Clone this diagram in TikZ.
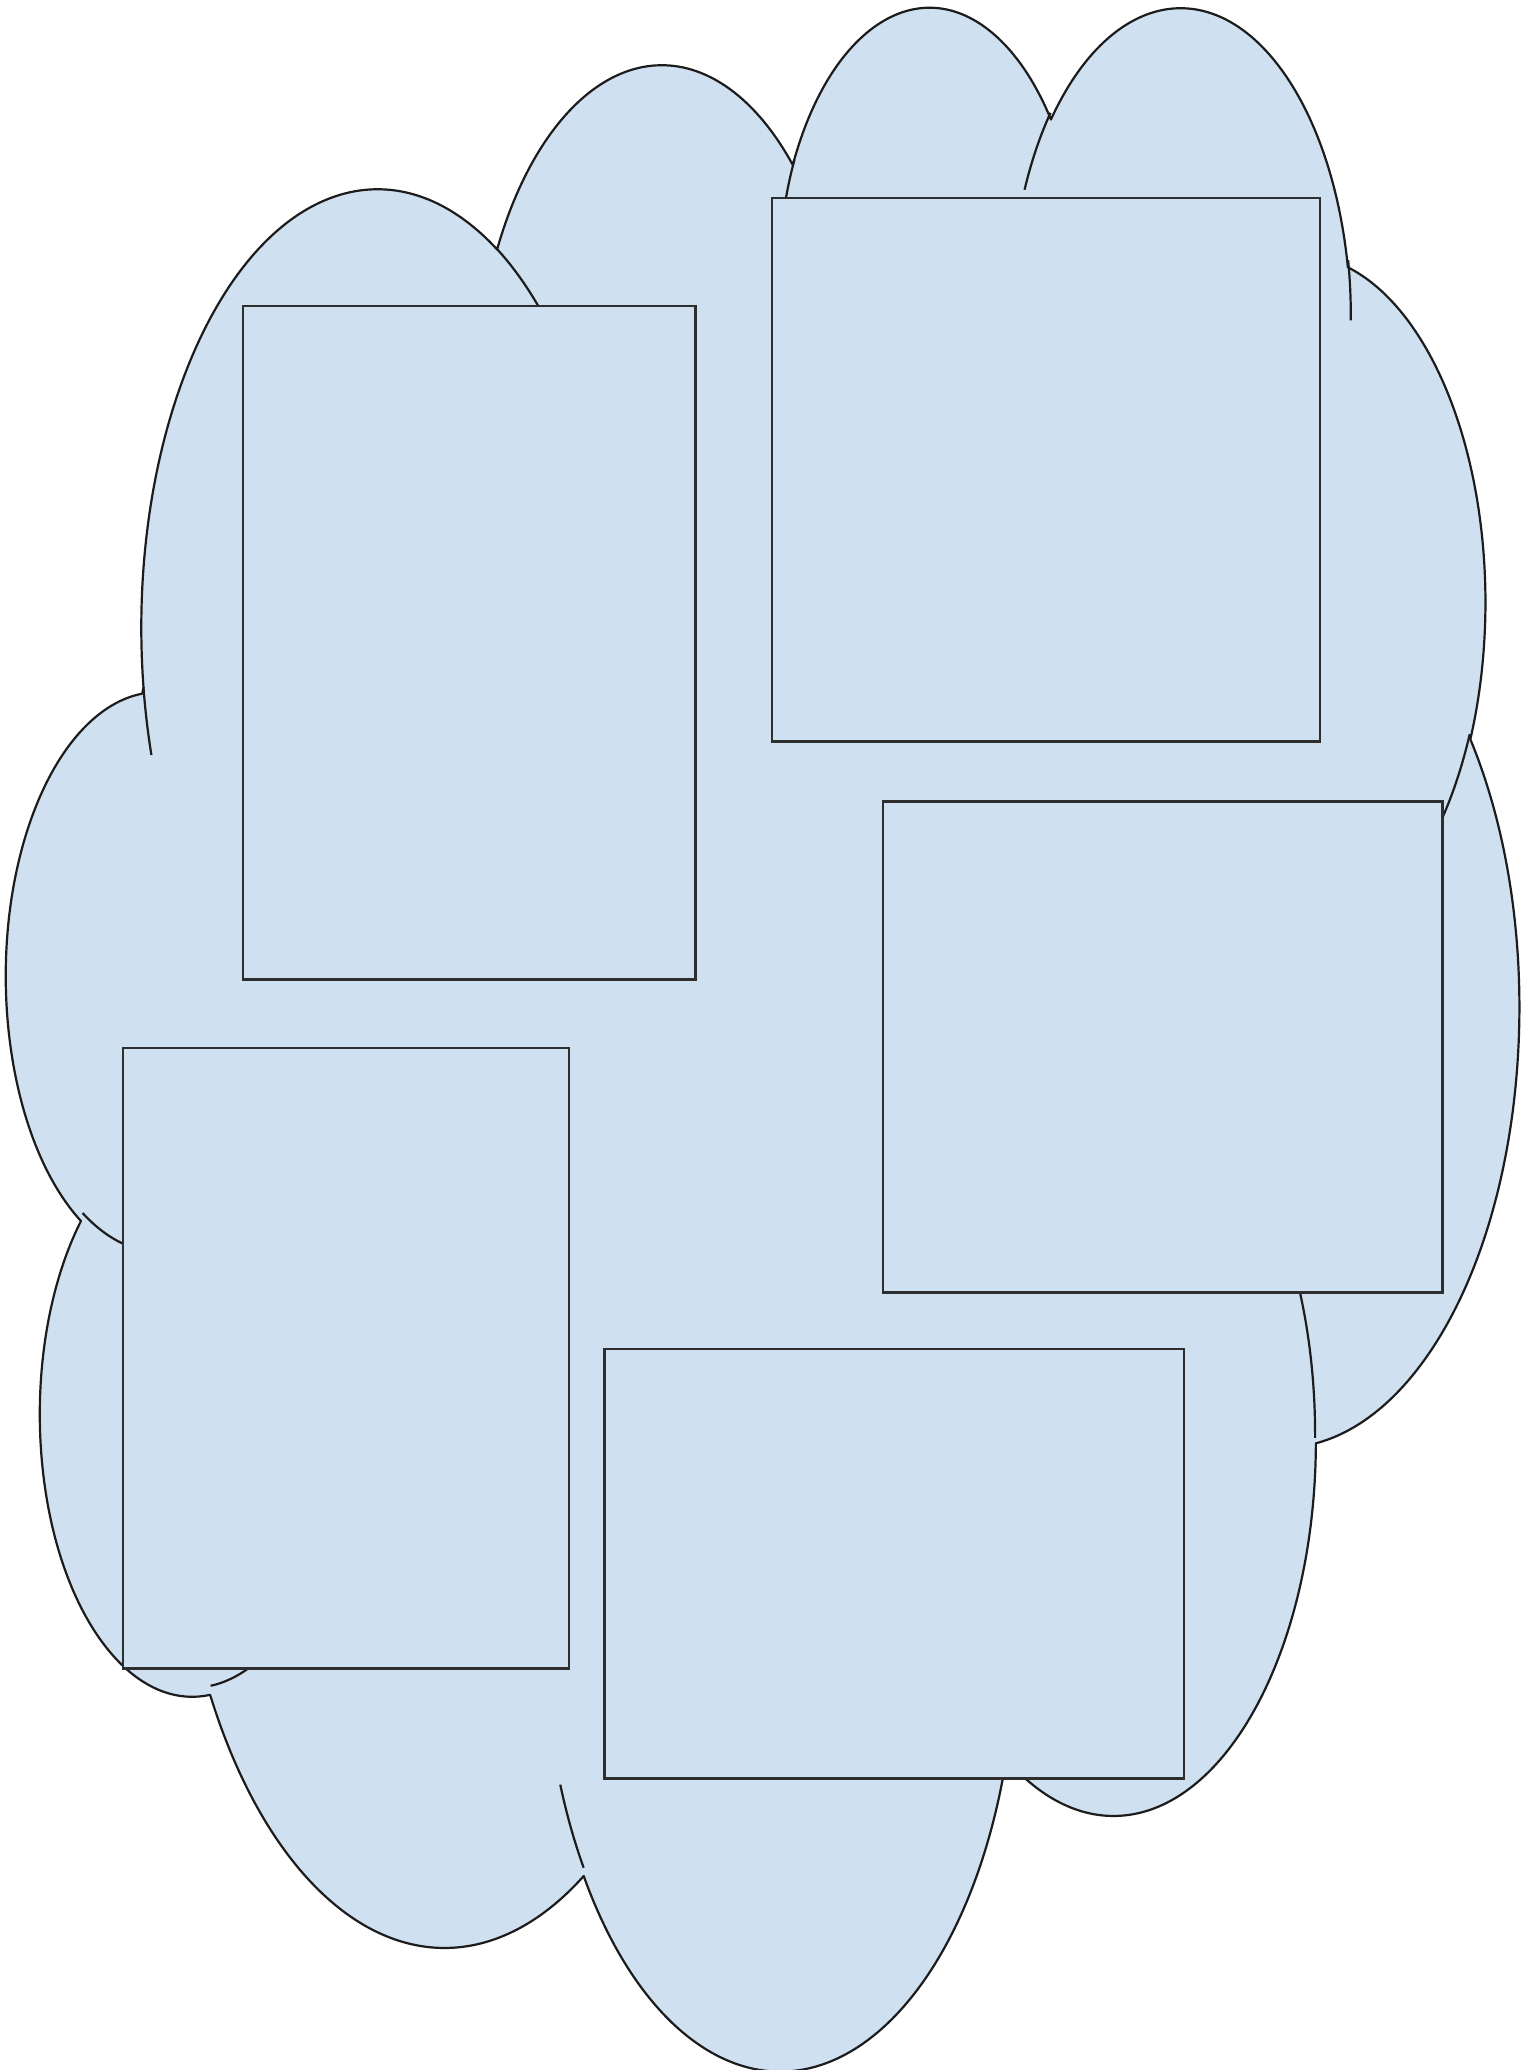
\documentclass[tikz,border=0pt]{standalone}
\usepackage{tikz}
\definecolor{sky}{HTML}{CFE0F1}
\definecolor{ink}{HTML}{1C1C1C}
\tikzset{
  rim/.style={draw=ink, line width=1.1pt, line join=round},
  puff/.style={rim, fill=sky},
  panel/.style={draw=ink!92, line width=1.25pt, fill=sky, inner sep=0pt,
                anchor=north west},
}
% ส่วนโค้ง arcTo: รัศมีและมุม (1/60000 องศา) ในหน่วยของเส้นทาง
\newcommand{\lobe}[4]{%
  arc[x radius=\fpeval{#1/100}, y radius=\fpeval{#2/100},
      start angle=\fpeval{round(atand(#1*sind((#3)/60000), #2*cosd((#3)/60000)), 4)},
      delta angle=\fpeval{round(
        (atand(#1*sind((#3+#4)/60000), #2*cosd((#3+#4)/60000))
         - atand(#1*sind((#3)/60000), #2*cosd((#3)/60000)))
        - 360*floor((atand(#1*sind((#3+#4)/60000), #2*cosd((#3+#4)/60000))
         - atand(#1*sind((#3)/60000), #2*cosd((#3)/60000)))/360), 4)}]}

\begin{document}
\begin{tikzpicture}[x=0.5pt, y=-0.5pt]
  \fill[white] (0,0) rectangle (1530,2070);
  \useasboundingbox (0,0) rectangle (1530,2070);

  \begin{scope}[shift={(7,1)}, x=1.7497pt, y=-2.3877pt]
    \draw[puff] (39.00,143.70)
      \lobe{6753}{9190}{-11429249}{7426832}
      \lobe{5333}{7267}{-8646143}{5396714}
      \lobe{4365}{5945}{-8748475}{5983381}
      \lobe{4857}{6595}{-7859164}{7034504}
      \lobe{5333}{7273}{-4722533}{6541615}
      \lobe{6775}{9220}{-2776035}{7816140}
      \lobe{5785}{7867}{37501}{6842000}
      \lobe{6752}{9215}{1347096}{6910353}
      \lobe{7720}{10543}{3974558}{4542661}
      \lobe{4360}{5918}{-16496525}{8804134}
      \lobe{4345}{5945}{-14809710}{9151131}
      -- cycle;
    \draw[rim]
      (46.93,261.77) \lobe{4345}{5945}{5204520}{1585770}
      (69.28,348.99) \lobe{4360}{5918}{4416628}{686848}
      (164.78,390.90) \lobe{6752}{9215}{8257449}{844866}
      (288.27,347.51) \lobe{6752}{9215}{387196}{959901}
      (341.29,229.54) \lobe{5785}{7867}{-4217541}{4255042}
      (417.98,153.54) \lobe{5333}{7273}{1819082}{1665090}
      (383.24,54.26) \lobe{4857}{6595}{-824660}{891534}
      (290.78,39.52) \lobe{4857}{6595}{-8950887}{1091722}
      (221.41,47.20) \lobe{4365}{5945}{-9809656}{1061181}
      (140.00,51.92) \lobe{6753}{9190}{-4002417}{739161}
      (41.27,157.89) \lobe{6753}{9190}{9459261}{711490};
  \end{scope}

  \node[panel, minimum width=226.35pt, minimum height=336.65pt] (p1) at (241.7,305) {};
  \node[panel, minimum width=274pt, minimum height=271.65pt] (p2) at (770.5,196.7) {};
  \node[panel, minimum width=279.6pt, minimum height=245.5pt] (p3) at (881.8,800) {};
  \node[panel, minimum width=222.95pt, minimum height=310.3pt] (p4) at (121.7,1046.7) {};
  \node[panel, minimum width=289.75pt, minimum height=214.75pt] (p5) at (603.3,1347.8) {};
\end{tikzpicture}
\end{document}
